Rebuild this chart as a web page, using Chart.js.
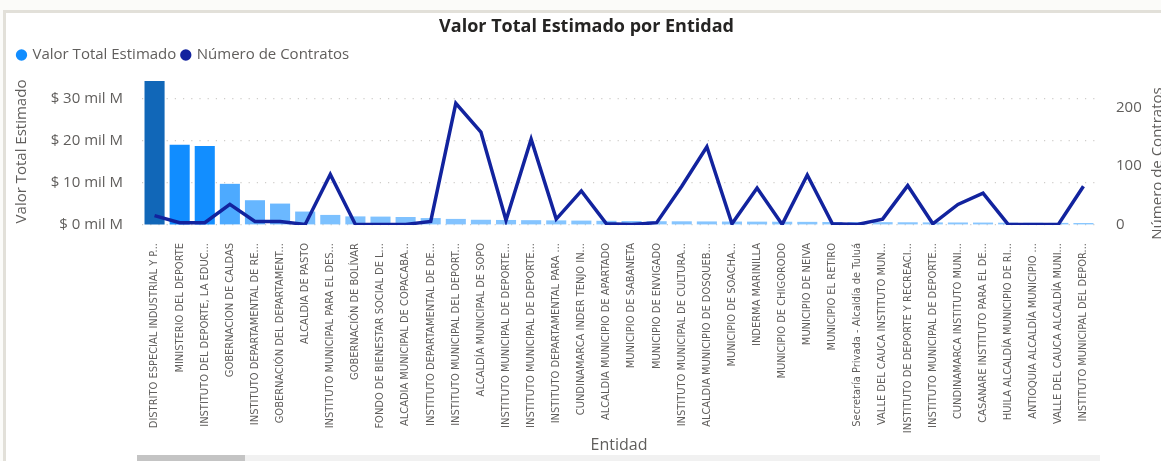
<!DOCTYPE html>
<html>
<head>
<meta charset="utf-8">
<script src="https://cdn.jsdelivr.net/npm/chart.js@4.4.1/dist/chart.umd.min.js"></script>
<style>
html,body{margin:0;padding:0;background:#fbfbf9;width:1161px;height:461px;overflow:hidden}
#wrap{position:relative;width:1161px;height:461px}
#inner{position:absolute;left:5px;top:11px;right:0;bottom:0;background:#fff}
canvas{position:absolute;left:0;top:0}
.fTop{position:absolute;left:3px;top:10px;width:1158px;height:3px;background:#E2E0D9;z-index:2}
.fLeft{position:absolute;left:3px;top:10px;width:3px;height:451px;background:#E2E0D9;z-index:2}
.track{position:absolute;left:137px;top:455px;width:963px;height:6px;background:#F1F1F1;z-index:2}
.thumb{position:absolute;left:137px;top:455px;width:108px;height:6px;background:#C4C4C4;z-index:3}
</style>
</head>
<body>
<div id="wrap">
  <div id="inner"></div>
  <canvas id="c" width="1161" height="461"></canvas>
  <div class="fTop"></div><div class="fLeft"></div>
  <div class="track"></div><div class="thumb"></div>
</div>
<script>
const chartTitle = 'Valor Total Estimado por Entidad';
const xTitle = 'Entidad';
const yLeftTitle = 'Valor Total Estimado';
const yRightTitle = 'Número de Contratos';
const seriesNames = ['Valor Total Estimado', 'Número de Contratos'];

const categories = [
  'DISTRITO ESPECIAL INDUSTRIAL Y P...',
  'MINISTERIO DEL DEPORTE',
  'INSTITUTO DEL DEPORTE, LA EDUC...',
  'GOBERNACION DE CALDAS',
  'INSTITUTO DEPARTAMENTAL DE RE...',
  'GOBERNACIÓN DEL DEPARTAMENT...',
  'ALCALDIA DE PASTO',
  'INSTITUTO MUNICIPAL PARA EL DES...',
  'GOBERNACIÓN DE BOLÍVAR',
  'FONDO DE BIENESTAR SOCIAL DE L...',
  'ALCADIA MUNICIPAL DE COPACABA...',
  'INSTITUTO DEPARTAMENTAL DE DE...',
  'INSTITUTO MUNICIPAL DEL DEPORT...',
  'ALCALDÍA MUNICIPAL DE SOPO',
  'INSTITUTO MUNICIPAL DE DEPORTE...',
  'INSTITUTO MUNICIPAL DE DEPORTE...',
  'INSTITUTO DEPARTAMENTAL PARA ...',
  'CUNDINAMARCA INDER TENJO IN...',
  'ALCALDIA MUNICIPIO DE APARTADO',
  'MUNICIPIO DE SABANETA',
  'MUNICIPIO DE ENVIGADO',
  'INSTITUTO MUNICIPAL DE CULTURA...',
  'ALCALDIA MUNICIPIO DE DOSQUEB...',
  'MUNICIPIO DE SOACHA...',
  'INDERMA MARINILLA',
  'MUNICIPIO DE CHIGORODO',
  'MUNICIPIO DE NEIVA',
  'MUNICIPIO EL RETIRO',
  'Secretaría Privada - Alcaldía de Tuluá',
  'VALLE DEL CAUCA INSTITUTO MUN...',
  'INSTITUTO DE DEPORTE Y RECREACI...',
  'INSTITUTO MUNICIPAL DE DEPORTE...',
  'CUNDINAMARCA INSTITUTO MUNI...',
  'CASANARE INSTITUTO PARA EL DE...',
  'HUILA ALCALDÍA MUNICIPIO DE RI...',
  'ANTIOQUIA ALCALDÍA MUNICIPIO ...',
  'VALLE DEL CAUCA ALCALDÍA MUNI...',
  'INSTITUTO MUNICIPAL DEL DEPOR...'
];

// Valor Total Estimado, in "mil M" (thousands of millions of pesos)
const valorTotal = [34.3, 19.1, 18.8, 9.8, 5.9, 5.1, 3.2, 2.4, 2.05, 2.0, 1.9, 1.65, 1.45,
  1.25, 1.2, 1.15, 1.1, 1.05, 1.0, 0.95, 0.9, 0.88, 0.85, 0.82, 0.8, 0.78, 0.75, 0.72,
  0.7, 0.68, 0.65, 0.62, 0.6, 0.58, 0.55, 0.53, 0.5, 0.48];

// Número de Contratos
const contratos = [16, 4, 4, 35, 6, 6, 1, 86, 1, 1, 1, 6, 207, 158, 8, 146, 10, 58, 2, 1,
  4, 66, 133, 2, 63, 1, 85, 2, 1, 10, 67, 2, 35, 54, 1, 1, 1, 66];

const leftTicks = [0, 10, 20, 30];
const rightTicks = [0, 100, 200];

// ---- styling ----
const textGray = '#605E5C';
const lineColor = '#12239E';
const legendColors = ['#118DFF', '#12239E'];
const uiFont = '"Open Sans", sans-serif';

function mix(a, b, t) {
  return 'rgb(' + a.map((v, i) => Math.round(v + (b[i] - v) * t)).join(',') + ')';
}
const cLow = [140, 200, 255], cMid = [17, 141, 255], cHigh = [17, 103, 184];
function barColor(ctx) {
  const v = ctx.raw;
  if (v == null) return '#118DFF';
  const mid = 19, max = Math.max(...valorTotal);
  if (v <= mid) return mix(cLow, cMid, Math.max(0, v / mid));
  return mix(cMid, cHigh, (v - mid) / (max - mid));
}

const rightTitlePlugin = {
  id: 'rightTitle',
  afterDraw(chart) {
    const ctx = chart.ctx;
    const area = chart.chartArea;
    ctx.save();
    ctx.translate(1162, (area.top + area.bottom) / 2 + 12);
    ctx.rotate(-Math.PI / 2);
    ctx.font = '15px ' + uiFont;
    ctx.fillStyle = textGray;
    ctx.textAlign = 'center';
    ctx.textBaseline = 'alphabetic';
    ctx.fillText(yRightTitle, 0, 0);
    ctx.restore();
  }
};

const chart = new Chart(document.getElementById('c'), {
  data: {
    labels: categories,
    datasets: [
      {
        type: 'bar',
        label: seriesNames[0],
        data: valorTotal,
        yAxisID: 'y',
        backgroundColor: barColor,
        borderWidth: 0,
        barPercentage: 0.8,
        categoryPercentage: 1.0,
        order: 1
      },
      {
        type: 'line',
        label: seriesNames[1],
        data: contratos,
        yAxisID: 'y1',
        borderColor: lineColor,
        backgroundColor: lineColor,
        borderWidth: 3.5,
        pointRadius: 0,
        tension: 0,
        order: 0
      }
    ]
  },
  options: {
    responsive: false,
    animation: false,
    devicePixelRatio: 1,
    layout: { padding: { left: 12, right: 0, top: 14, bottom: 0 } },
    plugins: {
      tooltip: { enabled: false },
      title: {
        display: true,
        text: chartTitle,
        color: '#252423',
        font: { family: uiFont, size: 18, weight: 'bold', lineHeight: 1.2 },
        padding: { top: 2.2, bottom: 3.7 }
      },
      legend: {
        position: 'top',
        align: 'start',
        labels: {
          usePointStyle: true,
          boxWidth: 7,
          boxHeight: 8,
          padding: 6,
          color: textGray,
          font: { family: uiFont, size: 15 },
          generateLabels: (ch) => ch.data.datasets.map((ds, i) => ({
            text: ds.label,
            fillStyle: legendColors[i],
            strokeStyle: legendColors[i],
            lineWidth: 0,
            pointStyle: 'circle',
            datasetIndex: i,
            hidden: false,
            fontColor: textGray
          }))
        }
      }
    },
    scales: {
      x: {
        grid: { display: false },
        border: { display: false },
        ticks: {
          autoSkip: false,
          maxRotation: 90,
          minRotation: 90,
          padding: 10,
          color: textGray,
          font: { family: '"Liberation Sans Narrow", "DejaVu Sans Condensed", "Liberation Sans", sans-serif', size: 11 }
        },
        title: {
          display: true,
          text: xTitle,
          color: textGray,
          font: { family: uiFont, size: 16, lineHeight: 1.2 },
          padding: { top: 0, bottom: 6 }
        },
        afterFit(s) { s.height = 461 - 225; }
      },
      y: {
        position: 'left',
        min: 0,
        max: 35,
        afterBuildTicks(s) { s.ticks = leftTicks.map(v => ({ value: v })); },
        grid: {
          drawTicks: false,
          color: '#CFCDCA',
          lineWidth: 1.2
        },
        border: { display: false, dash: [1.2, 7] },
        ticks: {
          padding: 19,
          color: textGray,
          font: { family: uiFont, size: 15 },
          callback: (v) => '$ ' + v + ' mil M'
        },
        title: {
          display: true,
          text: yLeftTitle,
          color: textGray,
          font: { family: uiFont, size: 15, lineHeight: 1.2 },
          padding: { top: 1, bottom: 0 }
        },
        afterFit(s) { s.width = 142 - 12; }
      },
      y1: {
        position: 'right',
        min: 0,
        max: 250,
        afterBuildTicks(s) { s.ticks = rightTicks.map(v => ({ value: v })); },
        grid: { display: false, drawTicks: false },
        border: { display: false },
        ticks: {
          padding: 20,
          color: textGray,
          font: { family: uiFont, size: 15 }
        },
        afterFit(s) { s.width = 1161 - 1096; }
      }
    }
  },
  plugins: [rightTitlePlugin]
});

const baseLegendFit = chart.legend.fit;
chart.legend.fit = function () { baseLegendFit.call(this); this.height += 5.5; };
chart.update('none');
</script>
</body>
</html>
